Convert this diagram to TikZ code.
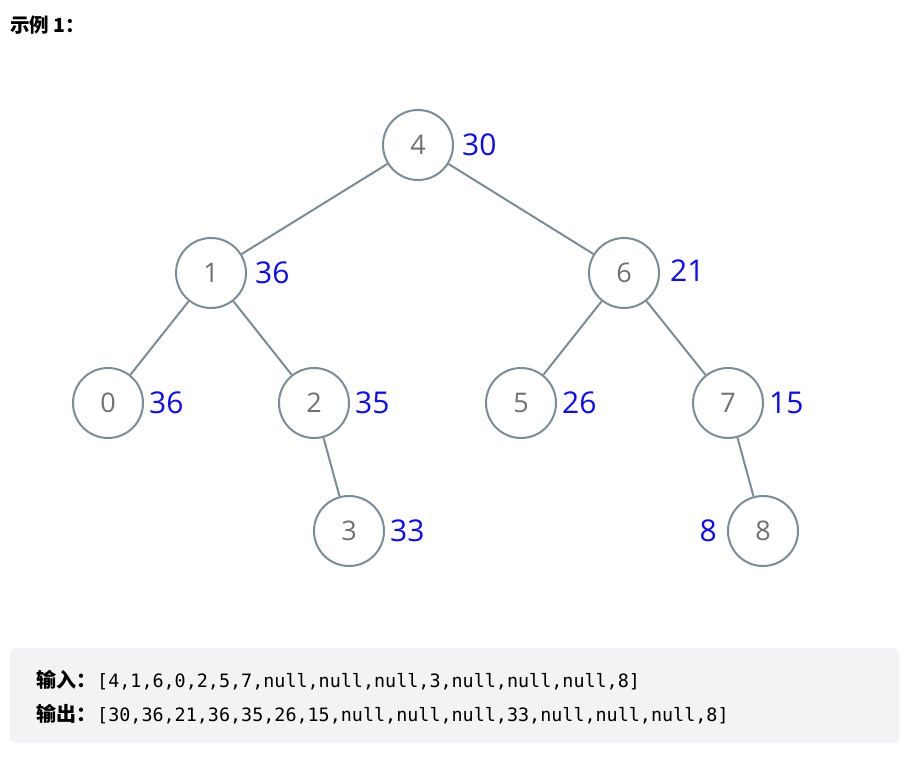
\documentclass[tikz,border=0pt]{standalone}
\usepackage{fontspec}
\setmainfont{Open Sans}
\setmonofont{DejaVu Sans Mono}
\newfontfamily\cjk{Noto Sans CJK SC}
\usetikzlibrary{positioning}

\definecolor{edgegray}{RGB}{122,140,150}
\definecolor{keygray}{RGB}{112,112,112}
\definecolor{sumblue}{RGB}{10,10,255}
\definecolor{boxgray}{RGB}{242,243,245}

\begin{document}
\begin{tikzpicture}[x=1pt, y=-1pt,
  tnode/.style={circle, draw=edgegray, line width=2pt, minimum size=70pt, inner sep=0pt,
    text=keygray, font=\fontsize{27}{30}\selectfont},
  sumlab/.style={text=sumblue, inner sep=0pt, font=\fontsize{30}{33}\selectfont},
  tedge/.style={draw=edgegray, line width=2pt}]
  \useasboundingbox (0,0) rectangle (912,759);

  % Titre
  \node[anchor=west, inner sep=0pt, font=\cjk\bfseries\fontsize{19.5}{22}\selectfont] (title) at (10,25) {示例 1：};

  % Noeuds de l'arbre
  \node[tnode] (n4) at (418,145) {4};
  \node[tnode] (n1) at (211,273) {1};
  \node[tnode] (n6) at (624,273) {6};
  \node[tnode] (n0) at (108,403) {0};
  \node[tnode] (n2) at (314,403) {2};
  \node[tnode] (n5) at (521,403) {5};
  \node[tnode] (n7) at (728,403) {7};
  \node[tnode] (n3) at (349,531) {3};
  \node[tnode] (n8) at (763,531) {8};

  % Aretes
  \foreach \a/\b in {4/1,4/6,1/0,1/2,6/5,6/7,2/3,7/8}
    \draw[tedge] (n\a) -- (n\b);

  % Sommes (bleu)
  \node[sumlab, right=8pt of n4] (s4) {30};
  \node[sumlab, right=8pt of n1] (s1) {36};
  \node[sumlab, right=10pt of n6, yshift=2pt] (s6) {21};
  \node[sumlab, right=5pt of n0] (s0) {36};
  \node[sumlab, right=5pt of n2] (s2) {35};
  \node[sumlab, right=5pt of n5] (s5) {26};
  \node[sumlab, right=5pt of n7] (s7) {15};
  \node[sumlab, right=5pt of n3] (s3) {33};
  \node[sumlab, left=10pt of n8] (s8) {8};

  % Bloc entree / sortie
  \node[fill=boxgray, rounded corners=5pt, minimum width=889pt, minimum height=95pt,
    anchor=north west, inner sep=0pt] (box) at (10,648) {};
  \node[anchor=base east, inner sep=0pt, font=\cjk\bfseries\fontsize{20}{22}\selectfont] (inkey) at (97,687) {输入：};
  \node[anchor=base west, inner sep=0pt, font=\ttfamily\fontsize{18.4}{22}\selectfont] (inval) at (97,687) {[4,1,6,0,2,5,7,null,null,null,3,null,null,null,8]};
  \node[anchor=base east, inner sep=0pt, font=\cjk\bfseries\fontsize{20}{22}\selectfont] (outkey) at (97,721) {输出：};
  \node[anchor=base west, inner sep=0pt, font=\ttfamily\fontsize{18.4}{22}\selectfont] (outval) at (97,721) {[30,36,21,36,35,26,15,null,null,null,33,null,null,null,8]};
\end{tikzpicture}
\end{document}
